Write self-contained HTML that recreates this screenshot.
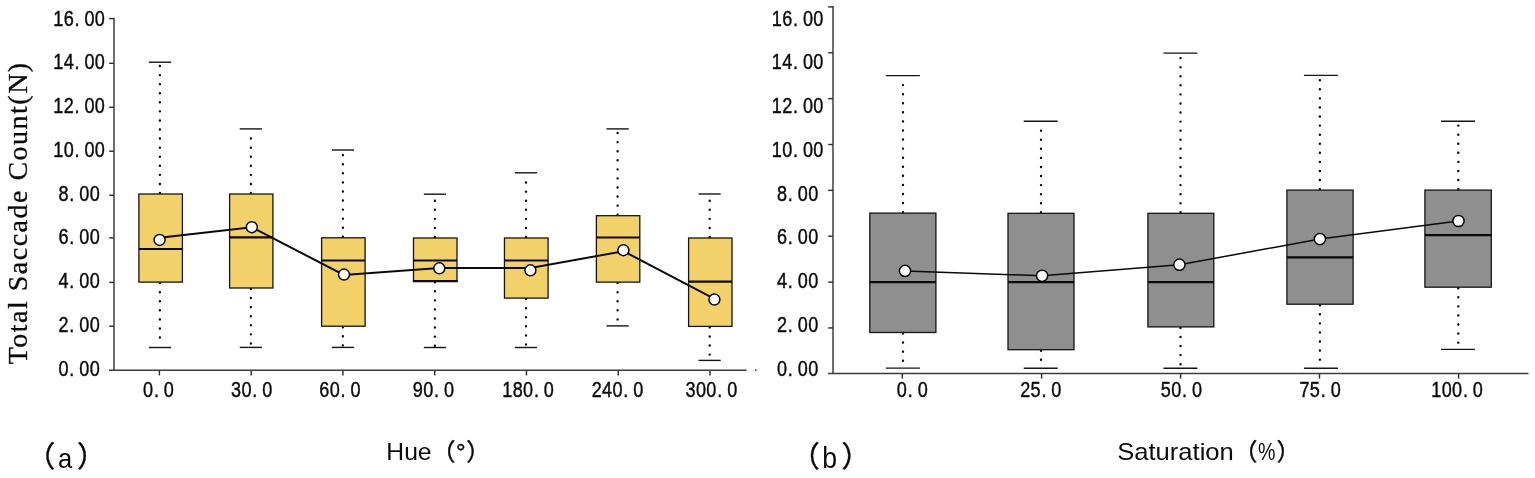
<!DOCTYPE html>
<html lang="en"><head><meta charset="utf-8"><title>Total Saccade Count by Hue and Saturation</title>
<style>
html,body{margin:0;padding:0;background:#fff;}
body{width:1535px;height:478px;overflow:hidden;}
svg{display:block;}
.tk{font-family:"Liberation Sans","Noto Sans CJK SC",sans-serif;font-size:21.6px;fill:#0a0a0a;stroke:#0a0a0a;stroke-width:0.42px;}
.ttl{font-family:"Liberation Sans","Noto Sans CJK SC",sans-serif;fill:#0a0a0a;}
.pp{stroke:#0a0a0a;stroke-width:0.4px;}
.yl{font-family:"Liberation Serif","Noto Serif CJK SC",serif;font-size:28px;fill:#0a0a0a;stroke:#0a0a0a;stroke-width:0.3px;}
.ax{stroke:#3c3c3c;stroke-width:1.5;fill:none;}
.tick{stroke:#303030;stroke-width:1.45;fill:none;}
.dot{stroke:#0a0a0a;stroke-width:2.4;stroke-dasharray:0.01 9.06;stroke-linecap:round;fill:none;}
.cap{stroke:#141414;stroke-width:1.4;fill:none;}
.box{stroke:#141414;stroke-width:1.3;}
.med{stroke:#0a0a0a;stroke-width:2.2;fill:none;}
</style></head><body>
<svg width="1535" height="478" viewBox="0 0 1535 478">
<rect width="1535" height="478" fill="#fff"/>
<g id="chart-a">
<line class="dot" x1="159.9" y1="193" x2="159.9" y2="63.8"/>
<line class="cap" x1="148.9" y1="62.2" x2="171.1" y2="62.2"/>
<line class="dot" x1="159.9" y1="283.1" x2="159.9" y2="345.9"/>
<line class="cap" x1="148.9" y1="347.5" x2="171.1" y2="347.5"/>
<rect class="box" x="138.9" y="194" width="43.5" height="88.1" fill="#f2d16b"/>
<line class="med" x1="138.9" y1="249" x2="182.4" y2="249"/>
<line class="dot" x1="250.9" y1="193" x2="250.9" y2="130.5"/>
<line class="cap" x1="239.7" y1="128.9" x2="261.9" y2="128.9"/>
<line class="dot" x1="250.9" y1="289" x2="250.9" y2="345.8"/>
<line class="cap" x1="239.7" y1="347.4" x2="261.9" y2="347.4"/>
<rect class="box" x="229.6" y="194" width="43.3" height="94" fill="#f2d16b"/>
<line class="med" x1="229.6" y1="237.4" x2="272.9" y2="237.4"/>
<line class="dot" x1="342.9" y1="236.8" x2="342.9" y2="151.6"/>
<line class="cap" x1="331.9" y1="150" x2="354.1" y2="150"/>
<line class="dot" x1="342.9" y1="327.2" x2="342.9" y2="345.8"/>
<line class="cap" x1="331.9" y1="347.4" x2="354.1" y2="347.4"/>
<rect class="box" x="321.6" y="237.8" width="43.5" height="88.4" fill="#f2d16b"/>
<line class="med" x1="321.6" y1="260.5" x2="365.1" y2="260.5"/>
<line class="dot" x1="434.9" y1="237" x2="434.9" y2="195.8"/>
<line class="cap" x1="423.8" y1="194.2" x2="446" y2="194.2"/>
<line class="dot" x1="434.9" y1="282.2" x2="434.9" y2="345.9"/>
<line class="cap" x1="423.8" y1="347.5" x2="446" y2="347.5"/>
<rect class="box" x="413.5" y="238" width="43.5" height="43.2" fill="#f2d16b"/>
<line class="med" x1="413.5" y1="260.5" x2="457" y2="260.5"/>
<line class="med" x1="412.9" y1="281.2" x2="457.6" y2="281.2"/>
<line class="dot" x1="526" y1="237" x2="526" y2="174.4"/>
<line class="cap" x1="514.8" y1="172.8" x2="537" y2="172.8"/>
<line class="dot" x1="526" y1="299.1" x2="526" y2="345.9"/>
<line class="cap" x1="514.8" y1="347.5" x2="537" y2="347.5"/>
<rect class="box" x="504.45" y="238" width="43.65" height="60.1" fill="#f2d16b"/>
<line class="med" x1="504.45" y1="260.5" x2="548.1" y2="260.5"/>
<line class="dot" x1="617.6" y1="214.7" x2="617.6" y2="130.5"/>
<line class="cap" x1="606.5" y1="128.9" x2="628.7" y2="128.9"/>
<line class="dot" x1="617.6" y1="283.1" x2="617.6" y2="324.3"/>
<line class="cap" x1="606.5" y1="325.9" x2="628.7" y2="325.9"/>
<rect class="box" x="596.4" y="215.7" width="43.4" height="66.4" fill="#f2d16b"/>
<line class="med" x1="596.4" y1="237.5" x2="639.8" y2="237.5"/>
<line class="dot" x1="709.7" y1="237" x2="709.7" y2="195.6"/>
<line class="cap" x1="698.5" y1="194" x2="720.7" y2="194"/>
<line class="dot" x1="709.7" y1="327.4" x2="709.7" y2="358.8"/>
<line class="cap" x1="698.5" y1="360.4" x2="720.7" y2="360.4"/>
<rect class="box" x="688.6" y="238" width="43.4" height="88.4" fill="#f2d16b"/>
<line class="med" x1="688.6" y1="281.6" x2="732" y2="281.6"/>
<polyline fill="none" stroke="#0a0a0a" stroke-width="2.0" points="159.6,237.8 251.8,227.2 343.9,275 439.3,268.1 530.4,268.1 623.5,251.2 714.5,298.8"/>
<circle cx="159.6" cy="239.9" r="5.5" fill="#fff" stroke="#0a0a0a" stroke-width="1.5"/>
<circle cx="251.8" cy="227.2" r="5.5" fill="#fff" stroke="#0a0a0a" stroke-width="1.5"/>
<circle cx="344" cy="274.6" r="5.5" fill="#fff" stroke="#0a0a0a" stroke-width="1.5"/>
<circle cx="439.3" cy="268.3" r="5.5" fill="#fff" stroke="#0a0a0a" stroke-width="1.5"/>
<circle cx="530.4" cy="270.3" r="5.5" fill="#fff" stroke="#0a0a0a" stroke-width="1.5"/>
<circle cx="623.4" cy="250.2" r="5.5" fill="#fff" stroke="#0a0a0a" stroke-width="1.5"/>
<circle cx="714.4" cy="299.6" r="5.5" fill="#fff" stroke="#0a0a0a" stroke-width="1.5"/>
<path class="ax" d="M114 17.8V370.2"/>
<path class="ax" d="M109 370.2H746.5"/>
<path class="tick" d="M109.2 18.6H114"/>
<path class="tick" d="M109.2 63.3H114"/>
<path class="tick" d="M109.2 107.3H114"/>
<path class="tick" d="M109.2 151.2H114"/>
<path class="tick" d="M109.2 195.2H114"/>
<path class="tick" d="M109.2 237.9H114"/>
<path class="tick" d="M109.2 282.4H114"/>
<path class="tick" d="M109.2 326.2H114"/>
<path class="tick" d="M159.4 370.2V375.4"/>
<path class="tick" d="M251.17 370.2V375.4"/>
<path class="tick" d="M342.94 370.2V375.4"/>
<path class="tick" d="M434.71 370.2V375.4"/>
<path class="tick" d="M526.48 370.2V375.4"/>
<path class="tick" d="M618.25 370.2V375.4"/>
<path class="tick" d="M710.02 370.2V375.4"/>
<circle cx="755.8" cy="370.2" r="0.9" fill="#444"/>
<text class="tk" transform="scale(0.836,1)" x="69.92 82.89 94.8 107.24" y="375.7">0.00</text>
<text class="tk" transform="scale(0.836,1)" x="69.92 82.89 94.8 107.24" y="331.94">2.00</text>
<text class="tk" transform="scale(0.836,1)" x="69.92 82.89 94.8 107.24" y="288.18">4.00</text>
<text class="tk" transform="scale(0.836,1)" x="69.92 82.89 94.8 107.24" y="244.42">6.00</text>
<text class="tk" transform="scale(0.836,1)" x="69.92 82.89 94.8 107.24" y="200.66">8.00</text>
<text class="tk" transform="scale(0.836,1)" x="63.7 76.14 89.11 101.02 113.46" y="156.9">10.00</text>
<text class="tk" transform="scale(0.836,1)" x="63.7 76.14 89.11 101.02 113.46" y="113.14">12.00</text>
<text class="tk" transform="scale(0.836,1)" x="63.7 76.14 89.11 101.02 113.46" y="69.38">14.00</text>
<text class="tk" transform="scale(0.836,1)" x="63.7 76.14 89.11 101.02 113.46" y="25.62">16.00</text>
<text class="tk" transform="scale(0.836,1)" x="171.11 184.09 195.99" y="396.6">0.0</text>
<text class="tk" transform="scale(0.836,1)" x="276.38 288.82 301.79 313.7" y="396.6">30.0</text>
<text class="tk" transform="scale(0.836,1)" x="381.88 394.32 407.3 419.2" y="396.6">60.0</text>
<text class="tk" transform="scale(0.836,1)" x="493.72 506.16 519.14 531.04" y="396.6">90.0</text>
<text class="tk" transform="scale(0.836,1)" x="600.78 613.22 625.66 638.64 650.54" y="396.6">180.0</text>
<text class="tk" transform="scale(0.836,1)" x="707.72 720.16 732.6 745.57 757.48" y="396.6">240.0</text>
<text class="tk" transform="scale(0.836,1)" x="820.04 832.48 844.92 857.89 869.8" y="396.6">300.0</text>
<text class="yl" transform="translate(27.2,364.3) rotate(-90)" textLength="301.5" lengthAdjust="spacing">Total Saccade Count(N)</text>
<text class="ttl" font-size="29" y="467.4"><tspan class="pp" x="26.2">（</tspan><tspan x="58.1" y="468" font-size="28.5" textLength="14.2" lengthAdjust="spacingAndGlyphs">a</tspan><tspan class="pp" x="76.9" y="467.4">）</tspan></text>
<text class="ttl" font-size="24" x="386.3" y="459.6" textLength="45.3" lengthAdjust="spacingAndGlyphs">Hue</text>
<text class="ttl pp" font-size="24" x="431.5 456 466.3" y="459.6">（°）</text>
</g>
<g id="chart-b">
<line class="dot" x1="903" y1="212.1" x2="903" y2="77.2"/>
<line class="cap" x1="885.85" y1="75.6" x2="919.85" y2="75.6"/>
<line class="dot" x1="903" y1="333.5" x2="903" y2="366.5"/>
<line class="cap" x1="885.85" y1="368.1" x2="919.85" y2="368.1"/>
<rect class="box" x="869.8" y="213.1" width="66.1" height="119.4" fill="#8f8f8f"/>
<line class="med" x1="869.8" y1="282.05" x2="935.9" y2="282.05"/>
<line class="dot" x1="1041" y1="212.3" x2="1041" y2="122.8"/>
<line class="cap" x1="1023.7" y1="121.2" x2="1057.7" y2="121.2"/>
<line class="dot" x1="1041" y1="350.7" x2="1041" y2="366.6"/>
<line class="cap" x1="1023.7" y1="368.2" x2="1057.7" y2="368.2"/>
<rect class="box" x="1008" y="213.3" width="66" height="136.4" fill="#8f8f8f"/>
<line class="med" x1="1008" y1="282.05" x2="1074" y2="282.05"/>
<line class="dot" x1="1180.5" y1="212.3" x2="1180.5" y2="54.7"/>
<line class="cap" x1="1163.45" y1="53.1" x2="1197.45" y2="53.1"/>
<line class="dot" x1="1180.5" y1="327.9" x2="1180.5" y2="366.6"/>
<line class="cap" x1="1163.45" y1="368.2" x2="1197.45" y2="368.2"/>
<rect class="box" x="1147.9" y="213.3" width="65.9" height="113.6" fill="#8f8f8f"/>
<line class="med" x1="1147.9" y1="282.05" x2="1213.8" y2="282.05"/>
<line class="dot" x1="1319.9" y1="189.1" x2="1319.9" y2="77"/>
<line class="cap" x1="1303.9" y1="75.4" x2="1337.9" y2="75.4"/>
<line class="dot" x1="1319.9" y1="305.2" x2="1319.9" y2="366.6"/>
<line class="cap" x1="1303.9" y1="368.2" x2="1337.9" y2="368.2"/>
<rect class="box" x="1286.9" y="190.1" width="66.2" height="114.1" fill="#8f8f8f"/>
<line class="med" x1="1286.9" y1="257.4" x2="1353.1" y2="257.4"/>
<line class="dot" x1="1458.3" y1="189.1" x2="1458.3" y2="122.8"/>
<line class="cap" x1="1441" y1="121.2" x2="1475" y2="121.2"/>
<line class="dot" x1="1458.3" y1="288.2" x2="1458.3" y2="347.8"/>
<line class="cap" x1="1441" y1="349.4" x2="1475" y2="349.4"/>
<rect class="box" x="1424.9" y="190.1" width="66.4" height="97.1" fill="#8f8f8f"/>
<line class="med" x1="1424.9" y1="235.1" x2="1491.3" y2="235.1"/>
<polyline fill="none" stroke="#0a0a0a" stroke-width="1.5" points="905,270.9 1042.1,275.8 1179.4,264.7 1319.9,239.1 1458.5,221"/>
<circle cx="905" cy="270.9" r="5.6" fill="#fff" stroke="#0a0a0a" stroke-width="1.5"/>
<circle cx="1042.1" cy="275.8" r="5.6" fill="#fff" stroke="#0a0a0a" stroke-width="1.5"/>
<circle cx="1179.4" cy="264.7" r="5.6" fill="#fff" stroke="#0a0a0a" stroke-width="1.5"/>
<circle cx="1319.9" cy="239.1" r="5.6" fill="#fff" stroke="#0a0a0a" stroke-width="1.5"/>
<circle cx="1458.5" cy="221" r="5.6" fill="#fff" stroke="#0a0a0a" stroke-width="1.5"/>
<path class="ax" d="M833 5.9V373.6"/>
<path class="ax" d="M828 373.6H1528.5"/>
<path class="tick" d="M828.2 327.94H833"/>
<path class="tick" d="M828.2 282.08H833"/>
<path class="tick" d="M828.2 236.22H833"/>
<path class="tick" d="M828.2 190.36H833"/>
<path class="tick" d="M828.2 144.5H833"/>
<path class="tick" d="M828.2 98.64H833"/>
<path class="tick" d="M828.2 52.78H833"/>
<path class="tick" d="M828.2 6.92H833"/>
<path class="tick" d="M902.3 373.6V378.6"/>
<path class="tick" d="M1041.6 373.6V378.6"/>
<path class="tick" d="M1180.6 373.6V378.6"/>
<path class="tick" d="M1319.5 373.6V378.6"/>
<path class="tick" d="M1458.6 373.6V378.6"/>
<text class="tk" transform="scale(0.836,1)" x="929.37 942.34 954.25 966.69" y="375.7">0.00</text>
<text class="tk" transform="scale(0.836,1)" x="929.37 942.34 954.25 966.69" y="331.94">2.00</text>
<text class="tk" transform="scale(0.836,1)" x="929.37 942.34 954.25 966.69" y="288.18">4.00</text>
<text class="tk" transform="scale(0.836,1)" x="929.37 942.34 954.25 966.69" y="244.42">6.00</text>
<text class="tk" transform="scale(0.836,1)" x="929.37 942.34 954.25 966.69" y="200.66">8.00</text>
<text class="tk" transform="scale(0.836,1)" x="923.15 935.59 948.56 960.47 972.91" y="156.9">10.00</text>
<text class="tk" transform="scale(0.836,1)" x="923.15 935.59 948.56 960.47 972.91" y="113.14">12.00</text>
<text class="tk" transform="scale(0.836,1)" x="923.15 935.59 948.56 960.47 972.91" y="69.38">14.00</text>
<text class="tk" transform="scale(0.836,1)" x="923.15 935.59 948.56 960.47 972.91" y="25.62">16.00</text>
<text class="tk" transform="scale(0.836,1)" x="1072.79 1085.77 1097.67" y="396.6">0.0</text>
<text class="tk" transform="scale(0.836,1)" x="1220.28 1232.72 1245.69 1257.6" y="396.6">25.0</text>
<text class="tk" transform="scale(0.836,1)" x="1388.58 1401.02 1414 1425.9" y="396.6">50.0</text>
<text class="tk" transform="scale(0.836,1)" x="1554.37 1566.81 1579.78 1591.69" y="396.6">75.0</text>
<text class="tk" transform="scale(0.836,1)" x="1712.02 1724.46 1736.9 1749.88 1761.78" y="396.6">100.0</text>
<text class="ttl" font-size="29" y="467.4"><tspan class="pp" x="790.65">（</tspan><tspan x="822.2" y="468" font-size="30.3" textLength="14.8" lengthAdjust="spacingAndGlyphs">b</tspan><tspan class="pp" x="841.55" y="467.4">）</tspan></text>
<text class="ttl" font-size="24" x="1117.2" y="460" textLength="116.6" lengthAdjust="spacingAndGlyphs">Saturation</text>
<text class="ttl" font-size="24" y="460"><tspan class="pp" x="1233.4">（</tspan><tspan x="1257.9" textLength="17.4" lengthAdjust="spacingAndGlyphs">%</tspan><tspan class="pp" x="1276.4">）</tspan></text>
</g>
</svg></body></html>
